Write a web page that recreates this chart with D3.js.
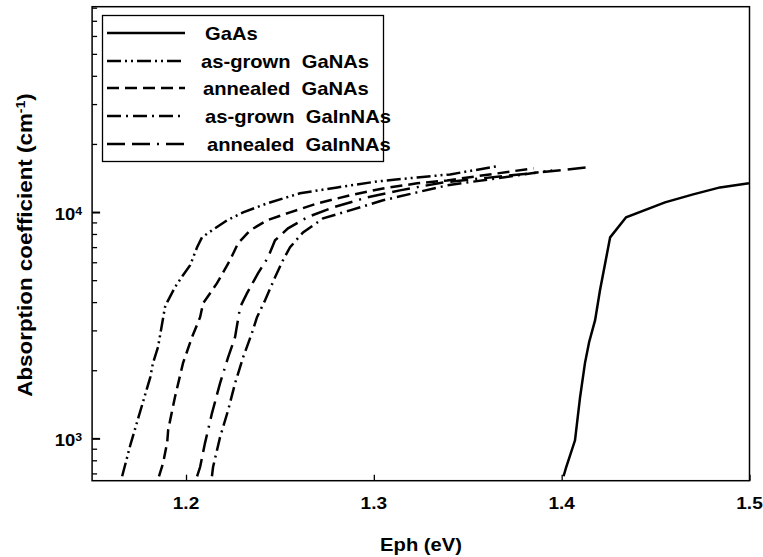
<!DOCTYPE html>
<html>
<head>
<meta charset="utf-8">
<script src="https://cdn.jsdelivr.net/npm/d3@7"></script>
<style>
  body { margin: 0; background: #fff; }
  text { font-family: "Liberation Sans", Arial, sans-serif; font-weight: bold; fill: #000; }
</style>
</head>
<body>
<svg id="chart"></svg>
<script>
// photon energy (eV) and absorption coefficient (cm^-1)
const gaasE = [1.401, 1.4023, 1.4071, 1.4098, 1.4124, 1.4146, 1.4178, 1.4204, 1.4258, 1.4343, 1.455, 1.470, 1.4843, 1.4997];
const gaasA = [680, 740, 980, 1520, 2150, 2660, 3330, 4510, 7730, 9480, 11040, 11970, 12850, 13390];

const agGaNAsE = [1.166, 1.1705, 1.181, 1.1824, 1.1851, 1.1888, 1.190, 1.1941, 1.1984, 1.2022, 1.2059, 1.2085, 1.2138, 1.2218, 1.2304, 1.2431, 1.2607, 1.2805, 1.3017, 1.323, 1.3406, 1.365];
const agGaNAsA = [680, 944, 1865, 2150, 2530, 3800, 4000, 4650, 5260, 5820, 6990, 7730, 8300, 9190, 9970, 10920, 12100, 12850, 13650, 14220, 14670, 15900];

const anGaNAsE = [1.1856, 1.1878, 1.190, 1.1905, 1.1941, 1.1984, 1.2032, 1.2075, 1.2091, 1.2165, 1.2234, 1.2277, 1.2341, 1.2431, 1.2554, 1.2698, 1.2873, 1.3049, 1.323, 1.339, 1.385];
const anGaNAsA = [680, 778, 963, 1090, 1520, 2150, 2800, 3430, 3950, 4850, 6120, 7280, 8300, 9190, 9970, 10920, 11850, 12720, 13390, 13800, 15600];

const agGaInNAsE = [1.2138, 1.2144, 1.2181, 1.2224, 1.2261, 1.2304, 1.2351, 1.2378, 1.2421, 1.2474, 1.2516, 1.2554, 1.2623, 1.273, 1.2873, 1.3049, 1.323, 1.339, 1.395];
const agGaInNAsA = [680, 747, 1010, 1330, 1750, 2280, 2920, 3430, 4080, 5150, 6120, 6990, 8130, 9380, 10170, 11270, 12220, 13120, 15280];

const anGaInNAsE = [1.2059, 1.2075, 1.2101, 1.2138, 1.2181, 1.2224, 1.2261, 1.2288, 1.2325, 1.2383, 1.2437, 1.2474, 1.2543, 1.2645, 1.2783, 1.2964, 1.3139, 1.3368, 1.4135];
const anGaInNAsA = [680, 747, 953, 1290, 1750, 2280, 2800, 3800, 4380, 5360, 6310, 7500, 8470, 9480, 10490, 11610, 12470, 13520, 15750];

const seriesNames = ['GaAs', 'as-grown  GaNAs', 'annealed  GaNAs', 'as-grown  GaInNAs', 'annealed  GaInNAs'];
const seriesDash = [null, '14,4,2,4,2,4', '12,6', '14,5,2,5', '18,7,18,7,2,7'];
const xTicks = [1.2, 1.3, 1.4, 1.5];
const yMajor = [1000, 10000];
const yMinor = [700, 800, 900, 2000, 3000, 4000, 5000, 6000, 7000, 8000, 9000, 20000, 30000, 40000, 50000, 60000, 70000, 80000];

const series = [
  [gaasE, gaasA], [agGaNAsE, agGaNAsA], [anGaNAsE, anGaNAsA], [agGaInNAsE, agGaInNAsA], [anGaInNAsE, anGaInNAsA]
].map(function(p, i) {
  return { name: seriesNames[i], dash: seriesDash[i], pts: p[0].map(function(e, j) { return [e, p[1][j]]; }) };
});

const W = 763, H = 557,
  margin = { top: 6.7, right: 13.5, bottom: 76.3, left: 92.1 },
  width = W - margin.left - margin.right,
  height = H - margin.top - margin.bottom;

// the original fonts are a bit wider than Arial, so stretch text sideways
const SX = 1.12;
function at(px, py, rot) {
  return 'translate(' + px + ',' + py + ')' + (rot ? ' rotate(' + rot + ')' : '') + ' scale(' + SX + ',1)';
}

const svg = d3.select('#chart').attr('width', W).attr('height', H);

const x = d3.scaleLinear().domain([1.15, 1.5]).range([0, width]);
const y = d3.scaleLog().domain([650, 80800]).range([height, 0]);

const g = svg.append('g')
  .attr('transform', 'translate(' + margin.left + ',' + margin.top + ')');

g.append('clipPath').attr('id', 'clip')
  .append('rect').attr('width', width).attr('height', height);

// x ticks, pointing inward
g.append('g')
  .attr('transform', 'translate(0,' + height + ')')
  .call(d3.axisBottom(x).tickValues(xTicks).tickSizeInner(-6).tickSizeOuter(0).tickFormat(''))
  .call(function(a) { a.select('.domain').remove(); a.selectAll('line').attr('stroke-width', 1.3); });

g.selectAll('.xlab')
  .data(xTicks)
  .enter().append('text')
  .attr('class', 'xlab')
  .attr('transform', function(d) { return at(x(d), height + 28.5); })
  .attr('text-anchor', 'middle')
  .style('font-size', '17px')
  .text(d3.format('.1f'));

// y ticks, pointing inward
g.append('g')
  .call(d3.axisLeft(y).tickValues(yMajor).tickSizeInner(-8).tickSizeOuter(0).tickFormat(''))
  .call(function(a) { a.select('.domain').remove(); a.selectAll('line').attr('stroke-width', 2); });
g.append('g')
  .call(d3.axisLeft(y).tickValues(yMinor).tickSizeInner(-5).tickSizeOuter(0).tickFormat(''))
  .call(function(a) { a.select('.domain').remove(); a.selectAll('line').attr('stroke-width', 1.3); });

const ylab = g.selectAll('.ylab')
  .data(yMajor)
  .enter().append('text')
  .attr('class', 'ylab')
  .attr('transform', function(d) { return at(-10, y(d) + 7.5); })
  .attr('text-anchor', 'end')
  .style('font-size', '16.5px');
ylab.append('tspan').text('10');
ylab.append('tspan').attr('dy', -5).style('font-size', '11px').text(function(d) { return Math.round(Math.log10(d)); });

// frame
g.append('rect')
  .attr('width', width).attr('height', height)
  .attr('fill', 'none').attr('stroke', '#000').attr('stroke-width', 1.5);

// curves
const line = d3.line()
  .x(function(d) { return x(d[0]); })
  .y(function(d) { return y(d[1]); });

g.append('g').attr('clip-path', 'url(#clip)')
  .selectAll('.curve')
  .data(series)
  .enter().append('path')
  .attr('class', 'curve')
  .attr('d', function(d) { return line(d.pts); })
  .attr('fill', 'none')
  .attr('stroke', '#000')
  .attr('stroke-width', 2.5)
  .attr('stroke-dasharray', function(d) { return d.dash; });

// legend
const legend = svg.append('g');
legend.append('rect')
  .attr('x', 102.5).attr('y', 15.5).attr('width', 281).attr('height', 146)
  .attr('fill', '#fff').attr('stroke', '#000').attr('stroke-width', 1.3);

const rowY = [33, 61, 88, 116, 144];
const textX = [205, 201, 203, 205, 207];
const rows = legend.selectAll('.row')
  .data(series)
  .enter().append('g')
  .attr('class', 'row')
  .attr('transform', function(d, i) { return 'translate(0,' + rowY[i] + ')'; });

rows.append('line')
  .attr('x1', 107).attr('x2', 185)
  .attr('stroke', '#000').attr('stroke-width', 2.5)
  .attr('stroke-dasharray', function(d) { return d.dash; });

rows.append('text')
  .attr('transform', function(d, i) { return at(textX[i], 6.5); })
  .style('font-size', '18px')
  .style('white-space', 'pre')
  .text(function(d) { return d.name; });

// axis titles
svg.append('text')
  .attr('transform', at(421, 551))
  .attr('text-anchor', 'middle')
  .style('font-size', '18px')
  .text('Eph (eV)');

const yt = svg.append('text')
  .attr('transform', at(32, 245, -90))
  .attr('text-anchor', 'middle')
  .style('font-size', '20px');
yt.append('tspan').text('Absorption coefficient (cm');
yt.append('tspan').attr('dy', -7).style('font-size', '12.5px').text('-1');
yt.append('tspan').attr('dy', 7).text(')');
</script>
</body>
</html>
